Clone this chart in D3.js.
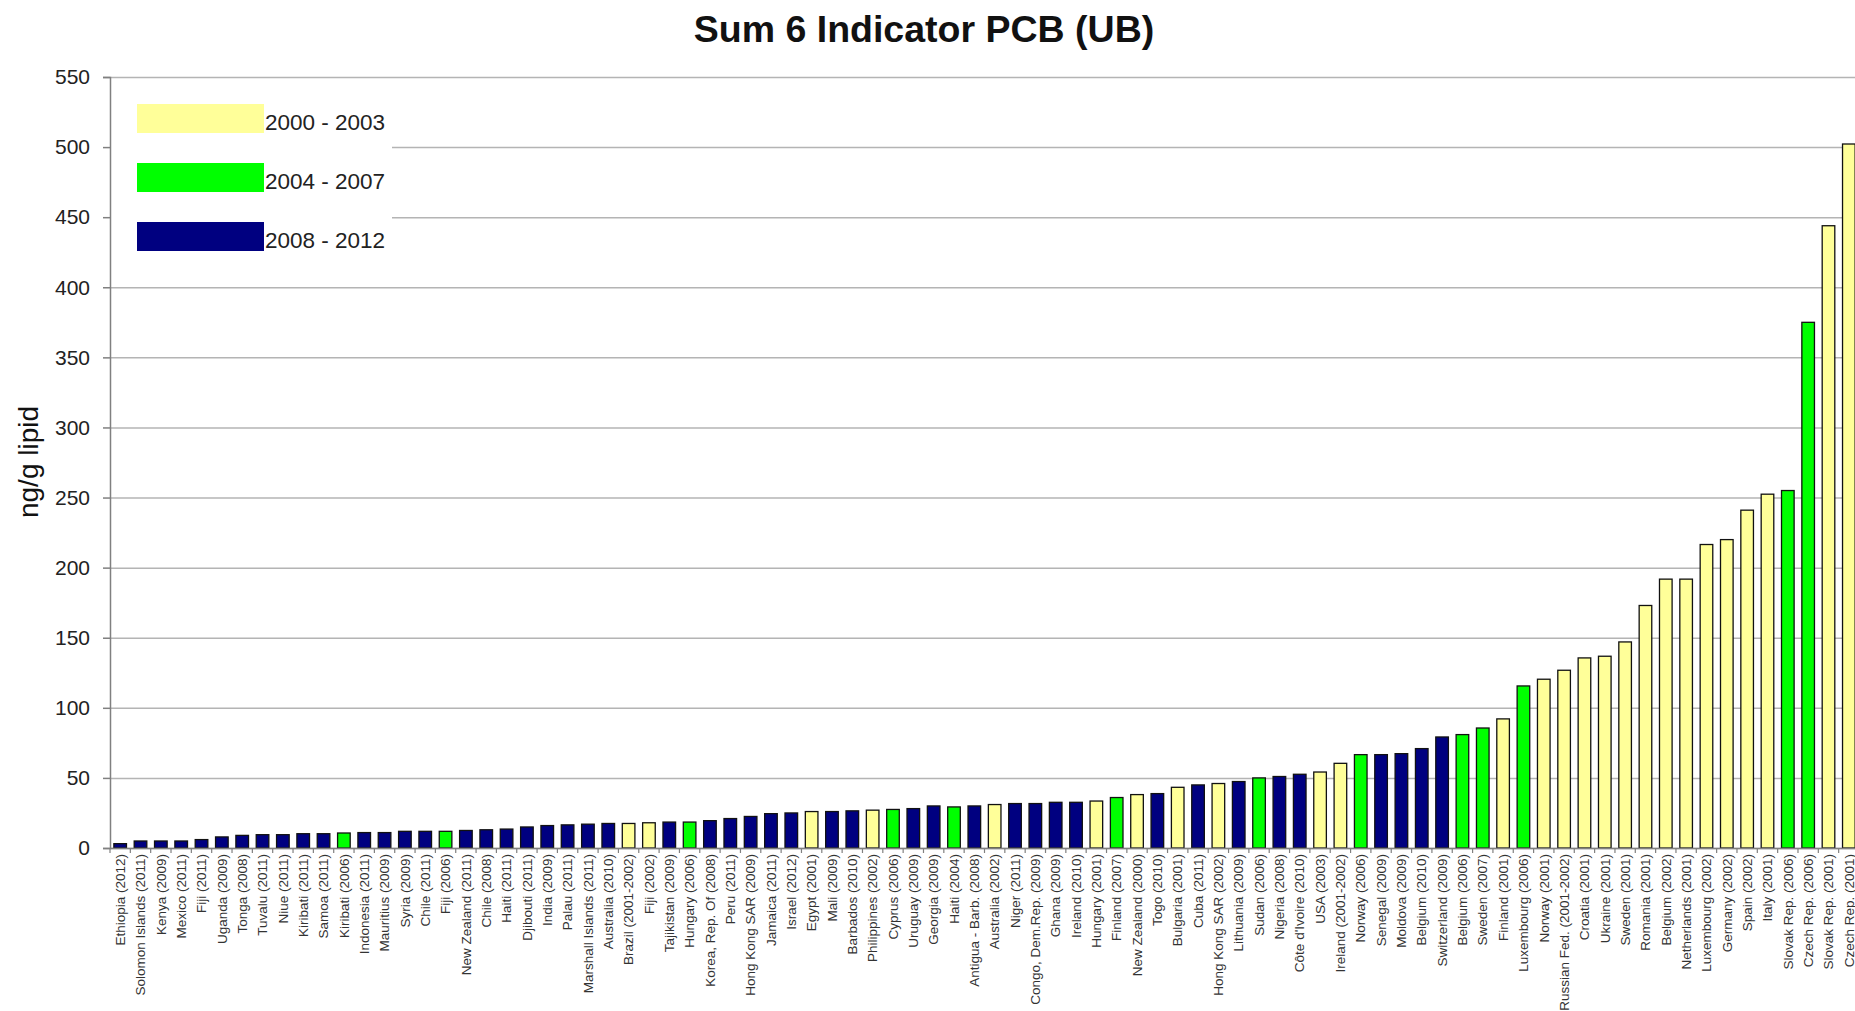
<!DOCTYPE html>
<html>
<head>
<meta charset="utf-8">
<script src="https://cdn.jsdelivr.net/npm/d3@7"></script>
<style>
    body { margin: 0; background: #fff; }
    #chart-area { width: 1855px; height: 1011px; overflow: hidden; }
    text { font-family: Arial, "Liberation Sans", sans-serif; }
</style>
</head>
<body>
<div id="chart-area"></div>
<script>

// countries (survey year), sorted by value
let categories = [
    "Ethiopia (2012)", "Solomon Islands (2011)", "Kenya (2009)", "Mexico (2011)", "Fiji (2011)",
    "Uganda (2009)", "Tonga (2008)", "Tuvalu (2011)", "Niue (2011)", "Kiribati (2011)",
    "Samoa (2011)", "Kiribati (2006)", "Indonesia (2011)", "Mauritius (2009)", "Syria (2009)",
    "Chile (2011)", "Fiji (2006)", "New Zealand (2011)", "Chile (2008)", "Haiti (2011)",
    "Djibouti (2011)", "India (2009)", "Palau (2011)", "Marshall Islands (2011)", "Australia (2010)",
    "Brazil (2001-2002)", "Fiji (2002)", "Tajikistan (2009)", "Hungary (2006)", "Korea, Rep. Of (2008)",
    "Peru (2011)", "Hong Kong SAR (2009)", "Jamaica (2011)", "Israel (2012)", "Egypt (2001)",
    "Mali (2009)", "Barbados (2010)", "Philippines (2002)", "Cyprus (2006)", "Uruguay (2009)",
    "Georgia (2009)", "Haiti (2004)", "Antigua - Barb. (2008)", "Australia (2002)", "Niger (2011)",
    "Congo, Dem.Rep. (2009)", "Ghana (2009)", "Ireland (2010)", "Hungary (2001)", "Finland (2007)",
    "New Zealand (2000)", "Togo (2010)", "Bulgaria (2001)", "Cuba (2011)", "Hong Kong SAR (2002)",
    "Lithuania (2009)", "Sudan (2006)", "Nigeria (2008)", "Côte d'Ivoire (2010)", "USA (2003)",
    "Ireland (2001-2002)", "Norway (2006)", "Senegal (2009)", "Moldova (2009)", "Belgium (2010)",
    "Switzerland (2009)", "Belgium (2006)", "Sweden (2007)", "Finland (2001)", "Luxembourg (2006)",
    "Norway (2001)", "Russian Fed. (2001-2002)", "Croatia (2001)", "Ukraine (2001)", "Sweden (2001)",
    "Romania (2001)", "Belgium (2002)", "Netherlands (2001)", "Luxembourg (2002)", "Germany (2002)",
    "Spain (2002)", "Italy (2001)", "Slovak Rep. (2006)", "Czech Rep. (2006)", "Slovak Rep. (2001)",
    "Czech Rep. (2001)"
];

// ng/g lipid
let values = [
    3.1, 5, 5, 5, 6,
    7.9, 9, 9.5, 9.5, 10.2,
    10.2, 10.7, 11, 11, 11.9,
    11.9, 11.9, 12.5, 13, 13.5,
    15, 16, 16.5, 17, 17.5,
    17.5, 18, 18.5, 18.5, 19.5,
    21, 22.5, 24.5, 25, 26,
    26, 26.5, 27, 27.5, 28.1,
    30, 29.3, 30, 31, 31.7,
    31.7, 32.6, 32.6, 33.5, 36,
    38.1, 38.8, 43.3, 45, 46,
    47.4, 50, 51, 52.6, 54.2,
    60.4, 66.6, 66.6, 67.3, 70.9,
    79.2, 80.9, 85.6, 92.1, 115.6,
    120.4, 126.8, 135.6, 136.8, 147,
    173, 191.8, 191.8, 216.5, 220,
    241, 252.4, 255, 375, 443.9,
    502.2
];

// sampling period group of each bar (index into periodLabels)
let periods = [
    2, 2, 2, 2, 2,
    2, 2, 2, 2, 2,
    2, 1, 2, 2, 2,
    2, 1, 2, 2, 2,
    2, 2, 2, 2, 2,
    0, 0, 2, 1, 2,
    2, 2, 2, 2, 0,
    2, 2, 0, 1, 2,
    2, 1, 2, 0, 2,
    2, 2, 2, 0, 1,
    0, 2, 0, 2, 0,
    2, 1, 2, 2, 0,
    0, 1, 2, 2, 2,
    2, 1, 1, 0, 1,
    0, 0, 0, 0, 0,
    0, 0, 0, 0, 0,
    0, 0, 1, 1, 0,
    0
];

let periodLabels = ["2000 - 2003", "2004 - 2007", "2008 - 2012"];
let periodColors = ["#ffff99", "#00ff00", "#000080"];

let yTicks = [0, 50, 100, 150, 200, 250, 300, 350, 400, 450, 500, 550];

class cBarChart {

    constructor(_parentElement) {
        this.parentElement = _parentElement;
        this.initVis();
    }

    initVis() {
        let vis = this;

        vis.data = categories.map((c, i) => ({ i: i, category: c, value: values[i], period: periods[i] }));

        vis.margin = { top: 77, right: 0, bottom: 163, left: 110 };
        vis.width = 1749;
        vis.height = 1011 - vis.margin.top - vis.margin.bottom;

        vis.root = d3.select("#" + vis.parentElement).append("svg")
            .attr("width", 1855)
            .attr("height", 1011);

        vis.svg = vis.root.append("g")
            .attr("transform", "translate(" + vis.margin.left + "," + vis.margin.top + ")");

        // Scales
        vis.x = d3.scaleBand()
            .domain(vis.data.map(d => d.i))
            .range([0, vis.width])
            .paddingInner(0.38)
            .paddingOuter(0.19);

        vis.y = d3.scaleLinear()
            .domain([0, 550])
            .range([vis.height, 0]);

        // gridlines
        vis.svg.append("g")
            .attr("class", "grid")
            .call(d3.axisLeft(vis.y).tickValues(yTicks).tickSize(-vis.width).tickFormat(""))
            .call(g => g.select(".domain").remove())
            .call(g => g.selectAll("line").attr("stroke", "#b4b4b4").attr("stroke-width", 1.5));

        // legend box sits over the grid
        vis.legend = vis.svg.append("g").attr("class", "legend");
        vis.legend.append("rect")
            .attr("x", 1).attr("y", 2)
            .attr("width", 281).attr("height", 186)
            .attr("fill", "#fff");

        vis.legend.selectAll(".swatch")
            .data(periodLabels)
            .enter().append("rect")
            .attr("class", "swatch")
            .attr("x", 27)
            .attr("y", (d, i) => 27 + i * 59)
            .attr("width", 127)
            .attr("height", 29)
            .attr("fill", (d, i) => periodColors[i]);

        vis.legend.selectAll(".legend-label")
            .data(periodLabels)
            .enter().append("text")
            .attr("class", "legend-label")
            .attr("x", 155)
            .attr("y", (d, i) => 53 + i * 59)
            .attr("font-size", 22.5)
            .attr("fill", "#222")
            .text(d => d);

        // bars
        vis.svg.selectAll(".bar")
            .data(vis.data)
            .enter().append("rect")
            .attr("class", "bar")
            .attr("x", d => vis.x(d.i))
            .attr("y", d => vis.y(d.value))
            .attr("width", vis.x.bandwidth())
            .attr("height", d => vis.y(0) - vis.y(d.value))
            .attr("fill", d => periodColors[d.period])
            .attr("stroke", "#111")
            .attr("stroke-width", 1.3);

        // y axis
        vis.svg.append("g")
            .attr("class", "y-axis")
            .call(d3.axisLeft(vis.y).tickValues(yTicks).tickSize(7).tickPadding(13))
            .call(g => g.select(".domain").attr("stroke", "#808080").attr("stroke-width", 1.5))
            .call(g => g.selectAll("line").attr("stroke", "#808080").attr("stroke-width", 1.5))
            .call(g => g.selectAll("text").attr("font-size", 21).attr("fill", "#222"));

        // x axis: labels at band centers, tick marks at band boundaries
        vis.svg.append("g")
            .attr("class", "x-axis")
            .attr("transform", "translate(0," + vis.height + ")")
            .call(d3.axisBottom(vis.x).tickSize(0).tickFormat(i => categories[i]))
            .call(g => g.select(".domain").attr("stroke", "#808080").attr("stroke-width", 1.5))
            .call(g => g.selectAll("text")
                .attr("font-size", 13.5)
                .attr("fill", "#333")
                .attr("text-anchor", "end")
                .attr("transform", "rotate(-90)")
                .attr("x", -6)
                .attr("y", 0)
                .attr("dy", "0.35em"));

        let step = vis.x.step();
        vis.svg.append("g")
            .attr("class", "x-ticks")
            .selectAll("line")
            .data(d3.range(categories.length + 1))
            .enter().append("line")
            .attr("x1", i => i * step)
            .attr("x2", i => i * step)
            .attr("y1", vis.height)
            .attr("y2", vis.height + 5)
            .attr("stroke", "#808080")
            .attr("stroke-width", 1.2);

        // titles
        vis.root.append("text")
            .attr("x", 924)
            .attr("y", 42)
            .attr("text-anchor", "middle")
            .attr("font-size", 37.5)
            .attr("font-weight", "bold")
            .attr("fill", "#111")
            .text("Sum 6 Indicator PCB (UB)");

        vis.root.append("text")
            .attr("transform", "translate(38,462) rotate(-90)")
            .attr("text-anchor", "middle")
            .attr("font-size", 28)
            .attr("fill", "#111")
            .text("ng/g lipid");
    }
}

let barChart = new cBarChart("chart-area");
</script>
</body>
</html>
